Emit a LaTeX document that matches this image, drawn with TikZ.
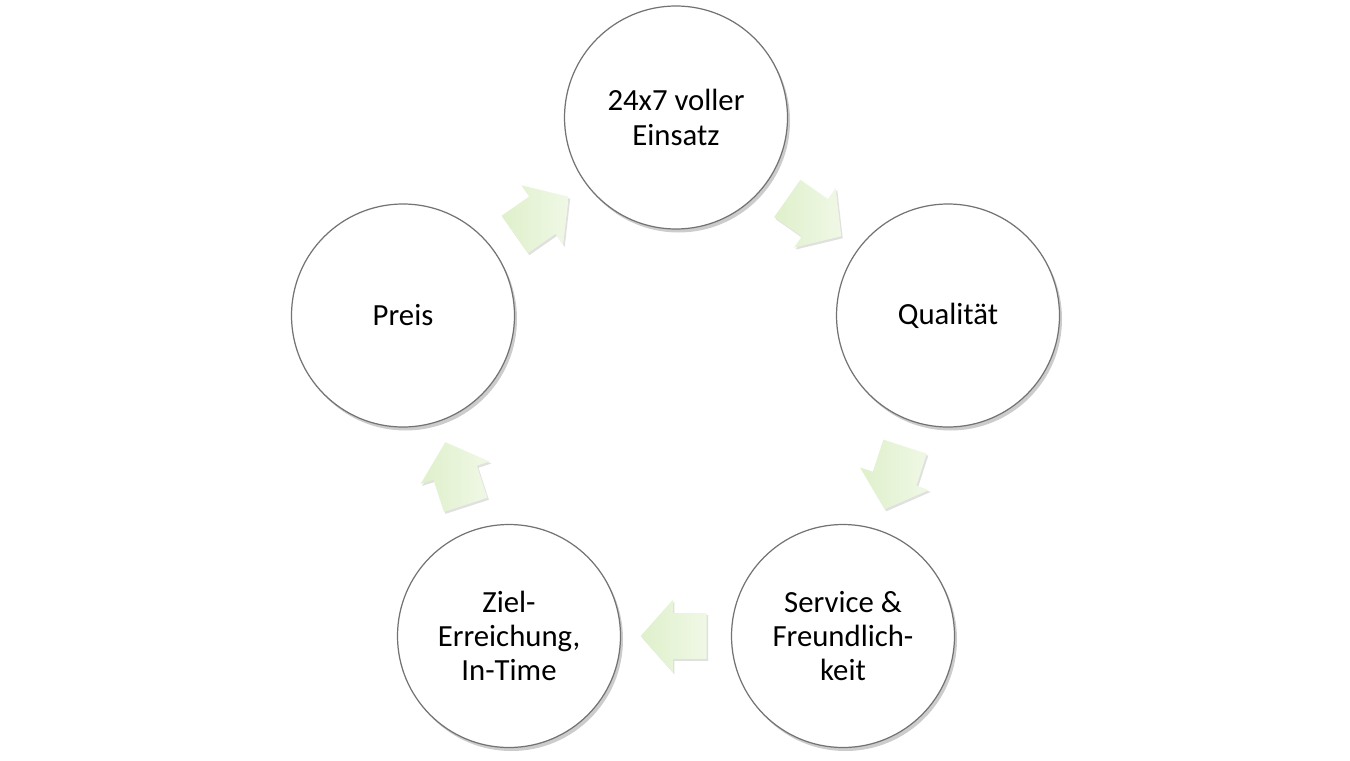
\documentclass[tikz,border=0pt]{standalone}
\usepackage{fontspec}
\setmainfont{Carlito}
\usetikzlibrary{shapes.arrows,shadows,calc}

\definecolor{arrowdark}{HTML}{DFF0CB}
\definecolor{arrowlight}{HTML}{F0F8E6}

\tikzset{
    stage/.style={circle, draw=black!55, line width=0.7pt, fill=white, minimum size=4.46cm,
        align=center, font=\fontsize{17.5}{19.5}\selectfont,
        drop shadow={shadow xshift=0.05cm, shadow yshift=-0.07cm, opacity=0.2, fill=black}},
    flowarrow/.style={single arrow, anchor=tail, minimum height=1.24cm, minimum width=1.44cm, inner sep=0.45cm,
        single arrow head extend=0.27cm, single arrow tip angle=97, draw=none,
        left color=arrowdark, right color=arrowlight,
        drop shadow={shadow xshift=0.03cm, shadow yshift=-0.04cm, opacity=0.12, fill=black}}
}

\begin{document}
\begin{tikzpicture}
    \useasboundingbox (0, 0) rectangle (27, 15.2);

    \node[stage] (einsatz) at (13.52, 12.85) {24x7 voller\\Einsatz};
    \node[stage] (qualitaet) at (18.96, 8.89) {Qualität};
    \node[stage] (service) at (16.86, 2.48) {Service \&\\Freundlich-\\keit};
    \node[stage] (ziel) at (10.18, 2.48) {Ziel-\\Erreichung,\\In-Time};
    \node[stage] (preis) at (8.06, 8.89) {Preis};

    \node[flowarrow, rotate=-35] (a1) at ($(einsatz)!0.5!(qualitaet)!0.62cm!(einsatz)$) {};
    \node[flowarrow, rotate=-108] (a2) at ($(qualitaet)!0.5!(service)!0.62cm!(qualitaet)$) {};
    \node[flowarrow, rotate=180] (a3) at ($(service)!0.5!(ziel)!0.62cm!(service)$) {};
    \node[flowarrow, rotate=108] (a4) at ($(ziel)!0.5!(preis)!0.62cm!(ziel)$) {};
    \node[flowarrow, rotate=35] (a5) at ($(preis)!0.5!(einsatz)!0.62cm!(preis)$) {};

\end{tikzpicture}
\end{document}
